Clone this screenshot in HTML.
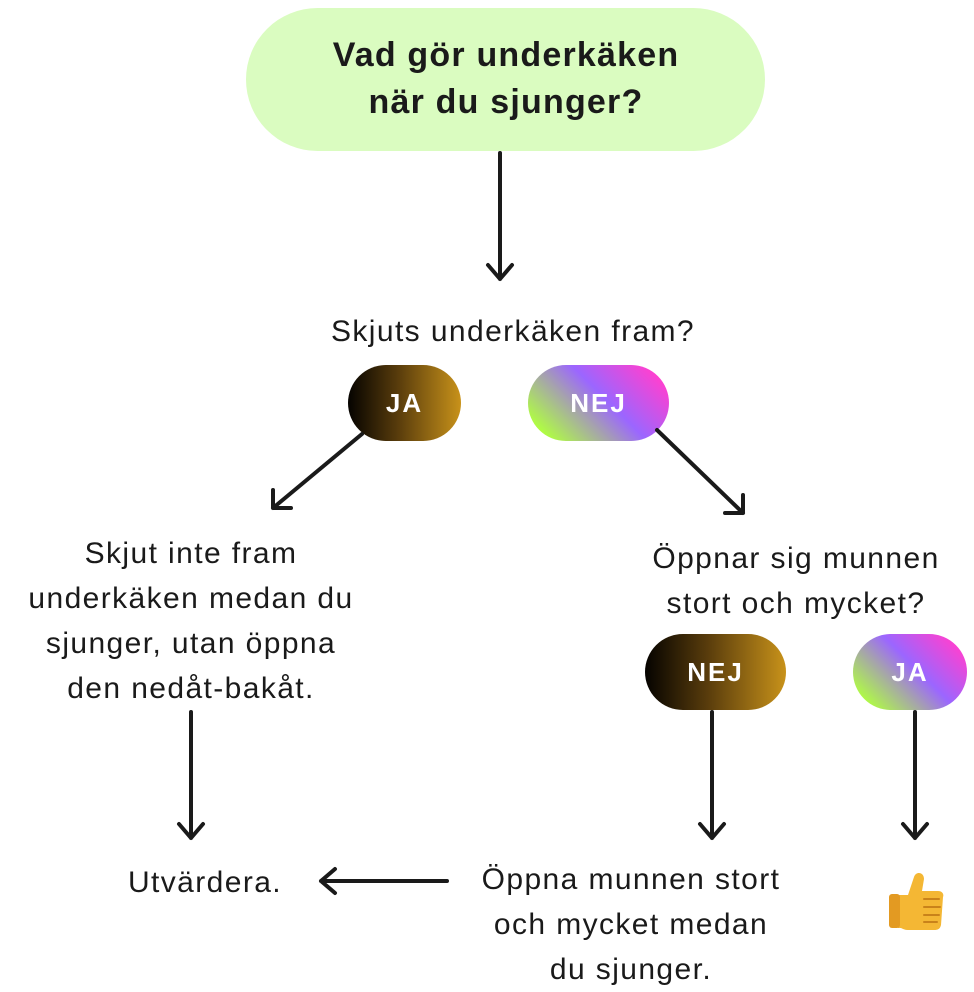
<!DOCTYPE html>
<html><head><meta charset="utf-8"><style>
body{margin:0;width:974px;height:990px;background:#fff;position:relative;overflow:hidden;font-family:"Liberation Sans",sans-serif;color:#1a1a1a}
.t{position:absolute;text-align:center;font-size:30px;letter-spacing:1.4px;line-height:45px;white-space:nowrap;transform:translateX(-50%)}
.pill{position:absolute;border-radius:38px;color:#fff;font-weight:bold;font-size:26px;letter-spacing:2px;display:flex;align-items:center;justify-content:center}
.g1{background:linear-gradient(90deg,#050300,#5a3d0c 45%,#c8921a)}
.g2{background:linear-gradient(225deg,#ff40d0 10%,#9b66ff 45%,#a5a0b0 62%,#b0ff40 90%)}
</style></head><body>
<div style="position:absolute;left:246px;top:8px;width:519px;height:143px;border-radius:72px;background:#dafcc0"></div>
<div class="t" style="left:506px;top:32px;font-weight:bold;font-size:34px;line-height:47px;letter-spacing:1.2px">Vad gör underkäken<br>när du sjunger?</div>
<div class="t" style="left:513px;top:309px">Skjuts underkäken fram?</div>
<div class="pill g1" style="left:348px;top:365px;width:113px;height:76px">JA</div>
<div class="pill g2" style="left:528px;top:365px;width:141px;height:76px">NEJ</div>
<div class="t" style="left:191px;top:531px">Skjut inte fram<br>underkäken medan du<br>sjunger, utan öppna<br>den nedåt-bakåt.</div>
<div class="t" style="left:796px;top:536px">Öppnar sig munnen<br>stort och mycket?</div>
<div class="pill g1" style="left:645px;top:634px;width:141px;height:76px">NEJ</div>
<div class="pill g2" style="left:853px;top:634px;width:114px;height:76px">JA</div>
<div class="t" style="left:205px;top:860px">Utvärdera.</div>
<div class="t" style="left:631px;top:857px">Öppna munnen stort<br>och mycket medan<br>du sjunger.</div>
<svg width="974" height="990" style="position:absolute;left:0;top:0" fill="none" stroke="#1a1a1a" stroke-width="4" stroke-linecap="round" stroke-linejoin="round">
<path d="M500 153V279M488 265L500 279L512 265"/>
<path d="M362 434L273 508M273 490L273 508L291 508"/>
<path d="M657 430L743 513M725 513L743 513L743 495"/>
<path d="M191 712V838M179 824L191 838L203 824"/>
<path d="M712 712V838M700 824L712 838L724 824"/>
<path d="M915 712V838M903 824L915 838L927 824"/>
<path d="M447 881H321M335 869L321 881L335 893"/>
<g stroke="none">
<path d="M898 895h10l6-18c2-6 10-5 10 2l-2 12h16c5 0 6 4 5 6l-2 28c-1 4-3 5-7 5h-26c-3 0-5-1-7-2h-3z" fill="#f4b734"/>
<rect x="889" y="894" width="11" height="34" rx="3" fill="#e39a22"/>
<path d="M924 899h15M924 907h16M924 915h15M924 922h13" stroke="#c9821a" stroke-width="2"/>
</g>
</svg>
</body></html>
